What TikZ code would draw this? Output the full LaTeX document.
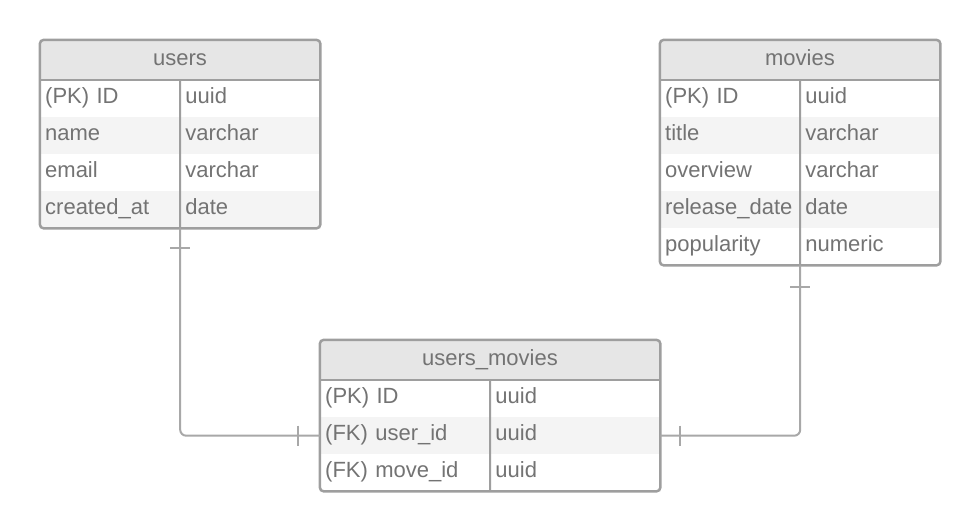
\documentclass[tikz,border=0pt]{standalone}
\usepackage{fontspec}
\setmainfont{Liberation Sans}
\usetikzlibrary{positioning}
\definecolor{tabline}{HTML}{9E9E9E}
\definecolor{linkline}{HTML}{A8A8A8}
\definecolor{headfill}{HTML}{E6E6E6}
\definecolor{stripe}{HTML}{F4F4F4}
\definecolor{txt}{HTML}{737373}
\tikzset{
  tab/.style={draw=tabline, line width=2.5pt, rounded corners=4pt},
  sep/.style={draw=tabline, line width=2pt},
  head/.style={fill=headfill, minimum height=40pt, inner sep=0pt, text=txt, text height=15pt, text depth=5pt},
  row/.style={anchor=north west, minimum height=37pt, inner xsep=5pt, inner ysep=0pt, align=left, text=txt, text height=15pt, text depth=5pt},
  val/.style={anchor=west, xshift=5pt, inner sep=0pt, text=txt, text height=15pt, text depth=5pt},
  link/.style={draw=linkline, line width=2pt, rounded corners=6pt},
}
\begin{document}
\begin{tikzpicture}[x=1pt, y=-1pt, font=\fontsize{22}{26}\selectfont]
\useasboundingbox (0,0) rectangle (980,531);
% users
\node[head, minimum width=280pt] (usersHead) at (180,60){users};
\node[row, text width=270pt, fill=white] (usersR1) at (40,80){(PK) ID};
\node[row, text width=270pt, fill=stripe] (usersR2) at (40,117){name};
\node[row, text width=270pt, fill=white] (usersR3) at (40,154){email};
\node[row, text width=270pt, fill=stripe] (usersR4) at (40,191){created\_at};
\node[val] at (usersR1.center){uuid};
\node[val] at (usersR2.center){varchar};
\node[val] at (usersR3.center){varchar};
\node[val] at (usersR4.center){date};
\draw[sep] (usersHead.south west) -- (usersHead.south east);
\draw[sep] (usersHead.south) -- (usersR4.south);
\draw[tab] (usersHead.north west) rectangle (usersR4.south east);
% movies
\node[head, minimum width=280pt] (moviesHead) at (800,60){movies};
\node[row, text width=270pt, fill=white] (moviesR1) at (660,80){(PK) ID};
\node[row, text width=270pt, fill=stripe] (moviesR2) at (660,117){title};
\node[row, text width=270pt, fill=white] (moviesR3) at (660,154){overview};
\node[row, text width=270pt, fill=stripe] (moviesR4) at (660,191){release\_date};
\node[row, text width=270pt, fill=white] (moviesR5) at (660,228){popularity};
\node[val] at (moviesR1.center){uuid};
\node[val] at (moviesR2.center){varchar};
\node[val] at (moviesR3.center){varchar};
\node[val] at (moviesR4.center){date};
\node[val] at (moviesR5.center){numeric};
\draw[sep] (moviesHead.south west) -- (moviesHead.south east);
\draw[sep] (moviesHead.south) -- (moviesR5.south);
\draw[tab] (moviesHead.north west) rectangle (moviesR5.south east);
% users_movies
\node[head, minimum width=340pt] (umHead) at (490,360){users\_movies};
\node[row, text width=330pt, fill=white] (umR1) at (320,380){(PK) ID};
\node[row, text width=330pt, fill=stripe] (umR2) at (320,417){(FK) user\_id};
\node[row, text width=330pt, fill=white] (umR3) at (320,454){(FK) move\_id};
\node[val] at (umR1.center){uuid};
\node[val] at (umR2.center){uuid};
\node[val] at (umR3.center){uuid};
\draw[sep] (umHead.south west) -- (umHead.south east);
\draw[sep] (umHead.south) -- (umR3.south);
\draw[tab] (umHead.north west) rectangle (umR3.south east);
% links
\draw[link] (usersR4.south) |- (umR2.west);
\draw[link] (moviesR5.south) |- (umR2.east);
\draw[link] ([yshift=-20pt]usersR4.south) ++(-10,0) -- ++(20,0);
\draw[link] ([xshift=-22pt]umR2.west) ++(0,-10) -- ++(0,20);
\draw[link] ([yshift=-22pt]moviesR5.south) ++(-10,0) -- ++(20,0);
\draw[link] ([xshift=20pt]umR2.east) ++(0,-10) -- ++(0,20);
\end{tikzpicture}
\end{document}
